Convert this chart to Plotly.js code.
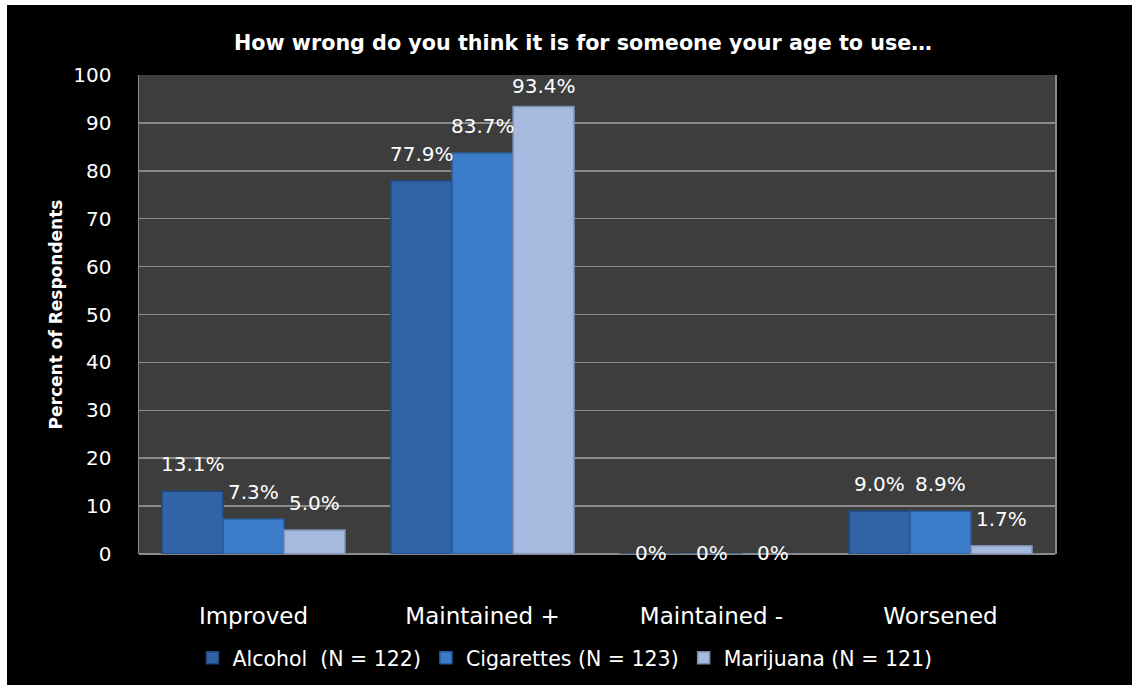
<!DOCTYPE html>
<html>
<head>
<meta charset="utf-8">
<script src="https://cdn.plot.ly/plotly-3.0.1.min.js"></script>
<style>
html,body{margin:0;padding:0;background:#ffffff;width:1132px;height:685px;overflow:hidden;}
#chart{position:absolute;left:7px;top:5px;width:1125px;height:680px;}
</style>
</head>
<body>
<div id="chart"></div>
<script>
const categories = ["Improved", "Maintained +", "Maintained -", "Worsened"];
const seriesNames = ["Alcohol  (N = 122)", "Cigarettes (N = 123)", "Marijuana (N = 121)"];
const alcohol = [13.1, 77.9, 0, 9.0];
const cigarettes = [7.3, 83.7, 0, 8.9];
const marijuana = [5.0, 93.4, 0, 1.7];
const yTicks = [0, 10, 20, 30, 40, 50, 60, 70, 80, 90, 100];

const seriesValues = [alcohol, cigarettes, marijuana];
const colors = ["#3164a6", "#3b7cc9", "#a6badf"];
const lineColors = ["#21477c", "#295c9a", "#7a8cb0"];
const font = "DejaVu Sans, Verdana, sans-serif";

const traces = seriesValues.map((vals, i) => ({
  type: "bar",
  name: seriesNames[i],
  x: categories,
  y: vals,
  marker: {color: colors[i], line: {color: lineColors[i], width: 1.5}},
  hoverinfo: "none"
}));

function fmt(v){ return v === 0 ? "0%" : v.toFixed(1) + "%"; }
function labelShift(v){ return v === 0 ? 1 : (v > 90 ? 21 : 27); }
const annotations = [];
seriesValues.forEach((vals, i) => {
  vals.forEach((v, j) => {
    annotations.push({
      x: categories[j], y: v, xref: "x", yref: "y",
      text: fmt(v), showarrow: false,
      xshift: (i - 1) * 61,
      yshift: labelShift(v),
      font: {family: font, size: 20, color: "#ffffff"}
    });
  });
});

const layout = {
  width: 1125, height: 680,
  paper_bgcolor: "#000000",
  plot_bgcolor: "#3d3d3d",
  margin: {l: 132, r: 77, t: 70, b: 131},
  barmode: "group",
  bargap: 0.2,
  bargroupgap: 0,
  showlegend: true,
  title: {
    text: "<b>How wrong do you think it is for someone your age to use…</b>",
    font: {family: "DejaVu Sans, sans-serif", size: 20.7, color: "#ffffff"},
    x: 0.512, xref: "container", xanchor: "center",
    y: 0.944, yref: "container", yanchor: "middle"
  },
  xaxis: {
    type: "category",
    tickfont: {family: font, size: 23, color: "#ffffff"},
    ticks: "outside", ticklen: 41, tickcolor: "rgba(0,0,0,0)",
    showgrid: false, zeroline: false, showline: false,
    automargin: false
  },
  yaxis: {
    range: [0, 100],
    tickvals: yTicks,
    ticktext: yTicks.map(String),
    tickfont: {family: font, size: 20, color: "#ffffff"},
    ticks: "outside", ticklen: 22, tickcolor: "rgba(0,0,0,0)",
    showgrid: true, gridcolor: "#8a8a8a", gridwidth: 1.5,
    zeroline: true, zerolinecolor: "#8a8a8a", zerolinewidth: 1.5,
    showline: true, linecolor: "#8a8a8a", linewidth: 1.5, mirror: true,
    automargin: false,
    title: {
      text: "<b>Percent of Respondents</b>",
      font: {family: font, size: 17, color: "#ffffff"},
      standoff: 6
    }
  },
  legend: {
    orientation: "h",
    x: 0.465, xanchor: "center",
    yref: "container",
    y: 0.04, yanchor: "middle",
    font: {family: font, size: 20.5, color: "#ffffff"},
    bgcolor: "rgba(0,0,0,0)",
    itemwidth: 30
  },
  annotations: annotations
};

Plotly.newPlot("chart", traces, layout, {displayModeBar: false, staticPlot: true});
</script>
</body>
</html>
